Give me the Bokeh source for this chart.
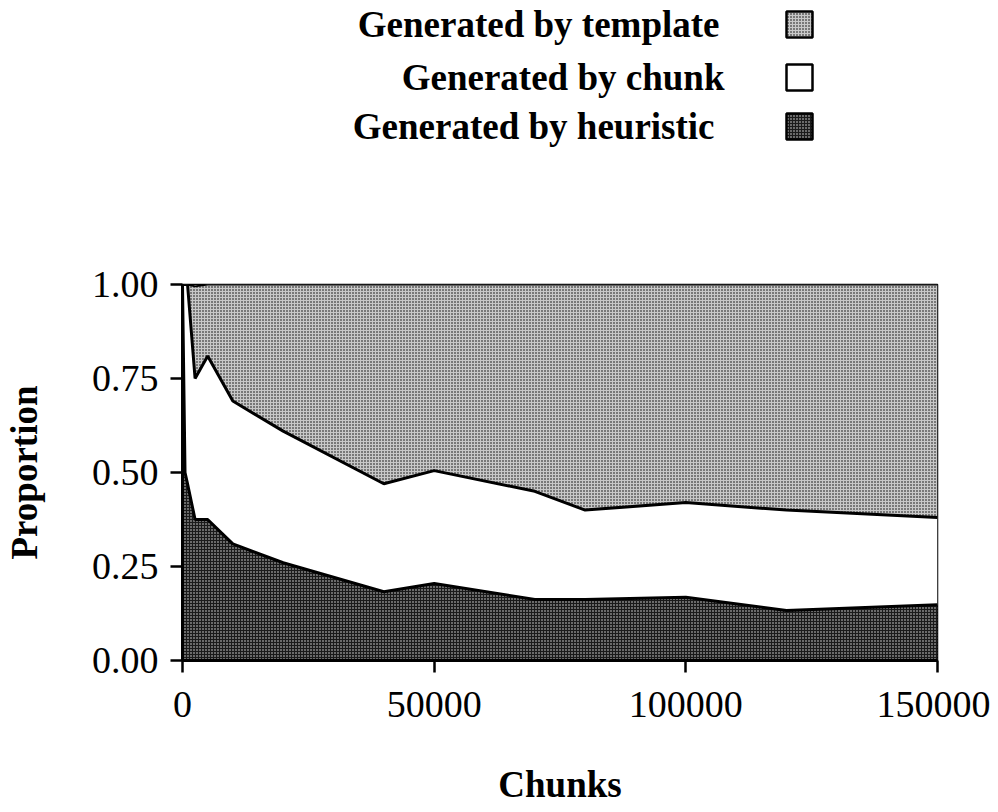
from bokeh.plotting import figure
from bokeh.layouts import column
from bokeh.models import Range1d, FixedTicker, NumeralTickFormatter, ColumnDataSource
from bokeh.core.properties import value
from bokeh.embed import file_html
from bokeh.resources import INLINE

# ---- data (proportions) ----
chunks = [0, 500, 1000, 2500, 5000, 10000, 20000, 40000, 50000, 70000, 80000, 100000, 120000, 150000]
heuristic = [1.0, 0.5, 0.47, 0.375, 0.375, 0.31, 0.26, 0.183, 0.205, 0.162, 0.162, 0.168, 0.133, 0.148]
chunk = [0.0, 0.5, 0.53, 0.375, 0.435, 0.38, 0.35, 0.287, 0.30, 0.288, 0.238, 0.252, 0.267, 0.232]
template = [0.0, 0.0, 0.0, 0.245, 0.19, 0.31, 0.39, 0.53, 0.495, 0.55, 0.60, 0.58, 0.60, 0.62]

legend_labels = ["Generated by template", "Generated by chunk", "Generated by heuristic"]
x_ticks = [0, 50000, 100000, 150000]
y_ticks = [0.0, 0.25, 0.5, 0.75, 1.0]

FONT = "Liberation Serif"

styles = {
    "template": dict(fill_color="#c8c8c8", hatch_pattern="dot", hatch_color="#000000", hatch_scale=3, hatch_weight=1.5),
    "chunk": dict(fill_color="#ffffff"),
    "heuristic": dict(fill_color="#1a1a1a", hatch_pattern="dot", hatch_color="#e0e0e0", hatch_scale=3, hatch_weight=1.3),
}

# cumulative stacks
c1 = heuristic
c2 = [a + b for a, b in zip(heuristic, chunk)]
c3 = [a + b for a, b in zip(c2, template)]
zeros = [0.0] * len(chunks)

src = ColumnDataSource(dict(x=chunks, z=zeros, c1=c1, c2=c2, c3=c3))

# ---- legend figure (its frame is aligned with the main frame by the column layout) ----
leg = figure(width=990, height=150, x_range=Range1d(182, 937), y_range=Range1d(150, 0),
             output_backend="svg", toolbar_location=None, min_border=0)
leg.axis.visible = False
leg.grid.visible = False
leg.outline_line_color = None

leg_y = [24, 77, 126]
leg_keys = ["template", "chunk", "heuristic"]
text_x = [719, 724, 714]
for lab, yy, k, tx in zip(legend_labels, leg_y, leg_keys, text_x):
    leg.text(x=[tx], y=[yy], text=[lab], text_align="right", text_baseline="middle",
             text_font=value(FONT), text_font_style="bold", text_font_size="37px", text_color="black")
    leg.rect(x=[799], y=[yy], width=26, height=26, line_color="black", line_width=2.5, **styles[k])

# ---- main figure ----
p = figure(frame_width=755, frame_height=376, min_border_left=182, min_border_right=53,
           min_border_top=134, min_border_bottom=144,
           x_range=Range1d(0, 150000), y_range=Range1d(0, 1),
           output_backend="svg", toolbar_location=None)
p.grid.visible = False
p.outline_line_color = "black"
p.outline_line_width = 1.5
p.background_fill_color = "white"

p.varea(x="x", y1="c2", y2="c3", source=src, **styles["template"])
p.varea(x="x", y1="c1", y2="c2", source=src, **styles["chunk"])
p.varea(x="x", y1="z", y2="c1", source=src, **styles["heuristic"])
p.line(x="x", y="c1", source=src, line_color="black", line_width=3)
p.line(x="x", y="c2", source=src, line_color="black", line_width=3)
p.line(x="x", y="c3", source=src, line_color="black", line_width=2)

for ax in (p.xaxis[0], p.yaxis[0]):
    ax.axis_line_width = 3
    ax.axis_line_color = "black"
    ax.major_tick_line_width = 2.5
    ax.major_tick_out = 12
    ax.major_tick_in = 0
    ax.minor_tick_out = 0
    ax.minor_tick_in = 0
    ax.major_label_text_font = FONT
    ax.major_label_text_font_size = "38px"
    ax.major_label_text_color = "black"
    ax.axis_label_text_font = FONT
    ax.axis_label_text_font_style = "bold"
    ax.axis_label_text_font_size = "37px"
    ax.axis_label_text_color = "black"

p.xaxis.ticker = FixedTicker(ticks=x_ticks)
p.yaxis.ticker = FixedTicker(ticks=y_ticks)
p.xaxis.formatter = NumeralTickFormatter(format="0")
p.yaxis.formatter = NumeralTickFormatter(format="0.00")
p.xaxis.axis_label = "Chunks"
p.yaxis.axis_label = "Proportion"
p.xaxis.major_label_standoff = 19
p.xaxis.axis_label_standoff = 44
p.yaxis.major_label_standoff = 12
p.yaxis.axis_label_standoff = 44

layout = column(leg, p, spacing=0)
open("out.html", "w").write(file_html(layout, INLINE))
